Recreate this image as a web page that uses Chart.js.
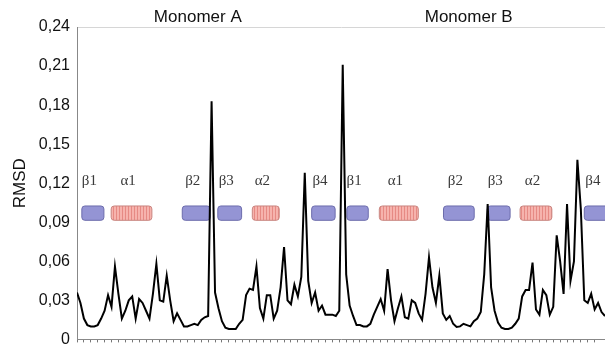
<!DOCTYPE html>
<html><head><meta charset="utf-8">
<script src="https://cdn.jsdelivr.net/npm/chart.js@4/dist/chart.umd.min.js"></script>
<style>html,body{margin:0;padding:0;background:#fff;}#wrap{width:605px;height:356px;position:relative;}</style>
</head><body><div id="wrap"><canvas id="c"></canvas></div>
<script>
// RMSD per residue position (monomer A followed by monomer B)
const rmsd = [
0.036,0.028,0.016,0.011,0.010,0.010,0.011,0.016,0.022,0.034,
0.025,0.056,0.035,0.016,0.022,0.030,0.033,0.016,0.031,0.028,
0.022,0.016,0.035,0.058,0.030,0.029,0.049,0.030,0.014,0.020,
0.015,0.010,0.010,0.011,0.012,0.011,0.015,0.017,0.018,0.183,
0.036,0.024,0.014,0.009,0.008,0.008,0.008,0.012,0.015,0.034,
0.039,0.038,0.056,0.024,0.016,0.034,0.034,0.016,0.022,0.040,
0.071,0.030,0.027,0.042,0.033,0.048,0.128,0.045,0.028,0.036,
0.022,0.026,0.019,0.019,0.019,0.018,0.022,0.211,0.050,0.026,
0.018,0.011,0.011,0.010,0.010,0.012,0.019,0.025,0.031,0.022,
0.054,0.030,0.014,0.024,0.033,0.017,0.016,0.030,0.028,0.020,
0.015,0.035,0.063,0.040,0.028,0.049,0.020,0.015,0.018,0.012,
0.0095,0.010,0.012,0.011,0.010,0.014,0.016,0.021,0.050,0.104,
0.040,0.022,0.013,0.009,0.008,0.008,0.009,0.012,0.016,0.033,
0.038,0.038,0.059,0.023,0.019,0.038,0.034,0.019,0.025,0.080,
0.060,0.035,0.104,0.045,0.060,0.138,0.100,0.030,0.028,0.035,
0.023,0.028,0.021,0.018
];
const residues = rmsd.map((v, i) => i);
const yTicks = [0, 0.03, 0.06, 0.09, 0.12, 0.15, 0.18, 0.21, 0.24];

// secondary structure elements (residue ranges)
const ssNames = ['β1','α1','β2','β3','α2','β4','β1','α1','β2','β3','α2','β4'];
const ssTypes = ['b','a','b','b','a','b','b','a','b','b','a','b'];
const ssStart = [1.4, 9.9, 30.5, 40.8, 50.8, 68.0, 78.2, 87.6, 106.2, 118.9, 128.4, 147.0];
const ssEnd   = [7.8, 21.7, 38.6, 47.7, 58.6, 74.8, 84.4, 98.9, 115.1, 125.5, 137.6, 154.0];
const ssBand  = [0.0915, 0.1025];   // RMSD band where the boxes sit
const ssLabelLevel = 0.122;

const monomerNames = ['Monomer A', 'Monomer B'];
const monomerCenters = [35, 113.5];

function stripePattern(ctx) {
  const c = document.createElement('canvas');
  c.width = 3; c.height = 1;
  const g = c.getContext('2d');
  g.fillStyle = '#f6b3ad'; g.fillRect(0, 0, 3, 1);
  g.fillStyle = '#e68a84'; g.fillRect(2, 0, 1, 1);
  return ctx.createPattern(c, 'repeat');
}

function rr(ctx, x, y, w, h, r) {
  ctx.beginPath();
  ctx.moveTo(x + r, y);
  ctx.lineTo(x + w - r, y); ctx.quadraticCurveTo(x + w, y, x + w, y + r);
  ctx.lineTo(x + w, y + h - r); ctx.quadraticCurveTo(x + w, y + h, x + w - r, y + h);
  ctx.lineTo(x + r, y + h); ctx.quadraticCurveTo(x, y + h, x, y + h - r);
  ctx.lineTo(x, y + r); ctx.quadraticCurveTo(x, y, x + r, y);
  ctx.closePath();
}

const structurePlugin = {
  id: 'structure',
  beforeDatasetsDraw(chart) {
    const ctx = chart.ctx, xs = chart.scales.x, ys = chart.scales.y;
    const pat = stripePattern(ctx);
    ctx.save();
    const yTop = ys.getPixelForValue(ssBand[1]);
    const yBot = ys.getPixelForValue(ssBand[0]);
    const yLab = ys.getPixelForValue(ssLabelLevel);
    ssNames.forEach((name, i) => {
      const x0 = xs.getPixelForValue(ssStart[i]);
      const x1 = xs.getPixelForValue(ssEnd[i]);
      rr(ctx, x0, yTop, x1 - x0, yBot - yTop, 3);
      if (ssTypes[i] === 'b') {
        ctx.fillStyle = '#9494d4';
        ctx.strokeStyle = '#6c6cac';
      } else {
        ctx.fillStyle = pat;
        ctx.strokeStyle = '#c98580';
      }
      ctx.fill();
      ctx.lineWidth = 1;
      ctx.stroke();
      ctx.fillStyle = '#3a3a3a';
      ctx.font = '15px "Liberation Serif", "DejaVu Serif", serif';
      ctx.textAlign = 'center';
      ctx.textBaseline = 'middle';
      const xc = xs.getPixelForValue((ssStart[i] + ssEnd[i]) / 2 - 1);
      ctx.fillText(name, xc, yLab);
    });
    ctx.fillStyle = '#111';
    ctx.font = '17px "Liberation Sans", Arial, sans-serif';
    ctx.textAlign = 'center';
    ctx.textBaseline = 'middle';
    monomerNames.forEach((m, i) => {
      ctx.fillText(m, xs.getPixelForValue(monomerCenters[i]), chart.chartArea.top - 10);
    });
    ctx.restore();
  }
};

new Chart(document.getElementById('c'), {
  type: 'line',
  data: {
    datasets: [{
      data: residues.map((r, i) => ({x: r, y: rmsd[i]})),
      borderColor: '#000',
      borderWidth: 2,
      pointRadius: 0,
      tension: 0,
      fill: false
    }]
  },
  options: {
    responsive: true,
    maintainAspectRatio: false,
    animation: false,
    layout: {padding: {top: 27, right: 0, left: 0, bottom: 0}},
    plugins: {legend: {display: false}, tooltip: {enabled: false}},
    scales: {
      x: {
        type: 'linear',
        min: 0, max: residues[residues.length - 1],
        ticks: {display: false, stepSize: 2},
        grid: {drawOnChartArea: false, drawTicks: true, tickLength: 3, color: '#777'},
        border: {display: true, color: '#888', width: 1},
        afterFit(s) { s.height = 9; }
      },
      y: {
        min: 0, max: 0.24,
        afterBuildTicks(s) { s.ticks = yTicks.map(v => ({value: v})); },
        ticks: {
          padding: 7,
          color: '#111',
          font: {family: '"Liberation Sans", Arial, sans-serif', size: 16},
          callback: v => v === 0 ? '0' : v.toFixed(2).replace('.', ',')
        },
        grid: {
          drawTicks: false,
          color: c => (c.tick && c.tick.value === 0.24) ? '#d6d6d6' : 'rgba(0,0,0,0)'
        },
        border: {display: true, color: '#888', width: 1},
        title: {
          display: true, text: 'RMSD', color: '#111',
          font: {family: '"Liberation Sans", Arial, sans-serif', size: 17},
          padding: {top: 10, bottom: 0}
        },
        afterFit(s) { s.width = 77; }
      }
    }
  },
  plugins: [structurePlugin]
});
</script>
</body></html>
